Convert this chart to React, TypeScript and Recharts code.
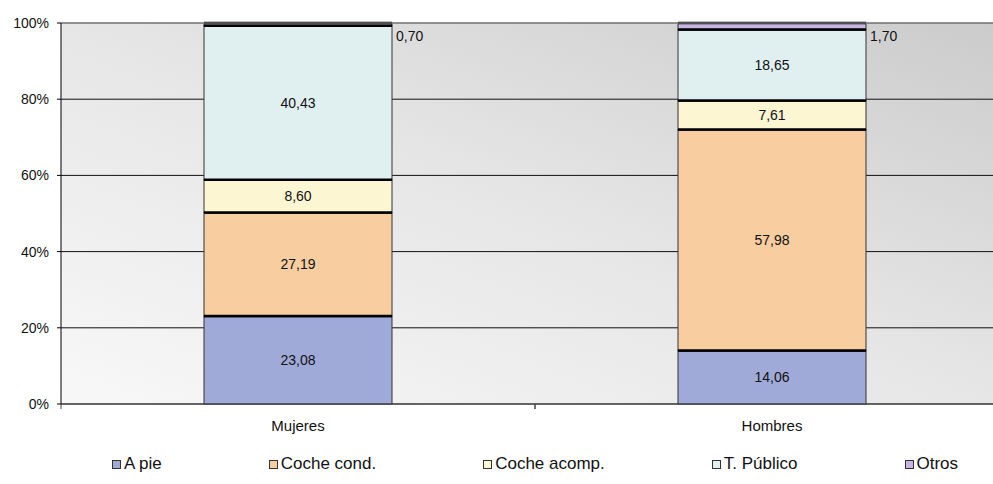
import { Bar, BarChart, CartesianGrid, LabelList, ReferenceLine, XAxis, YAxis } from "recharts";

const categories = ["Mujeres", "Hombres"];
const aPie = [23.08, 14.06];
const cocheCond = [27.19, 57.98];
const cocheAcomp = [8.6, 7.61];
const tPublico = [40.43, 18.65];
const otros = [0.7, 1.7];
const yTicks = [0, 20, 40, 60, 80, 100];

const series = [
  { key: "aPie", name: "A pie", color: "#a0aad8", values: aPie },
  { key: "cocheCond", name: "Coche cond.", color: "#f8cea0", values: cocheCond },
  { key: "cocheAcomp", name: "Coche acomp.", color: "#fcf6d2", values: cocheAcomp },
  { key: "tPublico", name: "T. Público", color: "#e0f0f0", values: tPublico },
  { key: "otros", name: "Otros", color: "#c8b4e2", values: otros },
];

const data = categories.map((name, i) => {
  const row: Record<string, string | number> = { name };
  series.forEach((s) => {
    row[s.key] = s.values[i];
  });
  return row;
});

const FONT = "Arial, 'Liberation Sans', sans-serif";
const HALF_BAND = 237;

const fmt = (v: any) => Number(v).toFixed(2).replace(".", ",");

// segment with thin sides and thick separators (excel look)
const Segment = (props: any) => {
  const { x, y, width, height, fill, bottomEdge } = props;
  if (width == null || height == null) return null;
  return (
    <g>
      <rect x={x} y={y} width={width} height={height} fill={fill} />
      <rect x={x} y={y} width={width} height={height} fill="none" stroke="#333" strokeWidth={1} />
      <line x1={x} y1={y} x2={x + width} y2={y} stroke="#000" strokeWidth={2.5} />
      {!bottomEdge && (
        <line x1={x} y1={y + height} x2={x + width} y2={y + height} stroke="#000" strokeWidth={2.5} />
      )}
    </g>
  );
};

const XTick = (props: any) => {
  const { x, y, payload } = props;
  return (
    <g>
      <line x1={x - HALF_BAND} y1={y} x2={x - HALF_BAND} y2={y + 5} stroke="#444" />
      <line x1={x + HALF_BAND} y1={y} x2={x + HALF_BAND} y2={y + 5} stroke="#444" />
      <text x={x} y={y + 23} textAnchor="middle" dominantBaseline="middle" fontSize={15} fontFamily={FONT} fill="#111">
        {payload.value}
      </text>
    </g>
  );
};

const OtrosLabel = (props: any) => {
  const { x, y, width, value } = props;
  return (
    <text x={x + width + 4} y={y + 14} dominantBaseline="middle" fontSize={14} fontFamily={FONT} fill="#111">
      {fmt(value)}
    </text>
  );
};

const App = () => {
  return (
    <div style={{ position: "fixed", left: 0, top: 0, width: 993, height: 484, overflow: "hidden", background: "#fff" }}>
      <BarChart
        width={1020}
        height={484}
        data={data}
        margin={{ top: 23, right: 11, left: 0, bottom: 54 }}
        barSize={188}
      >
        <defs>
          <linearGradient id="bg" x1="0" y1="1" x2="1" y2="0">
            <stop offset="0%" stopColor="#f8f8f8" />
            <stop offset="50%" stopColor="#e6e6e6" />
            <stop offset="100%" stopColor="#cbcbcb" />
          </linearGradient>
        </defs>
        <CartesianGrid vertical={false} stroke="#111" fill="url(#bg)" fillOpacity={1} />
        <XAxis
          dataKey="name"
          height={26}
          tickSize={0}
          tickMargin={0}
          tickLine={false}
          axisLine={{ stroke: "#444" }}
          tick={<XTick />}
          interval={0}
        />
        <YAxis
          width={61}
          domain={[0, 100]}
          ticks={yTicks}
          tickFormatter={(v) => `${v}%`}
          tickSize={4}
          tickMargin={8}
          axisLine={{ stroke: "#000" }}
          tickLine={{ stroke: "#000" }}
          tick={{ fontSize: 14, fontFamily: FONT, fill: "#111" }}
          interval={0}
        />
        <ReferenceLine y={100} stroke="#a0a0a0" />
        {series.map((s, i) => (
          <Bar
            key={s.key}
            dataKey={s.key}
            name={s.name}
            stackId="a"
            fill={s.color}
            shape={<Segment bottomEdge={i === 0} />}
            isAnimationActive={false}
          >
            {s.key === "otros" ? (
              <LabelList dataKey={s.key} content={<OtrosLabel />} />
            ) : (
              <LabelList
                dataKey={s.key}
                position="center"
                formatter={fmt}
                style={{ fontSize: 14, fontFamily: FONT, fill: "#111" }}
              />
            )}
          </Bar>
        ))}
      </BarChart>
      <div
        style={{
          position: "absolute",
          top: 453,
          left: 61,
          width: 948,
          height: 22,
          display: "flex",
          justifyContent: "center",
          alignItems: "center",
          gap: 107,
          fontFamily: FONT,
          fontSize: 17,
          color: "#111",
          lineHeight: "22px",
        }}
      >
        {series.map((s) => (
          <div key={s.key} style={{ display: "flex", alignItems: "center", whiteSpace: "nowrap" }}>
            <span
              style={{
                display: "inline-block",
                width: 7,
                height: 7,
                border: "1px solid #333",
                background: s.color,
                marginRight: 3,
              }}
            />
            {s.name}
          </div>
        ))}
      </div>
    </div>
  );
};

export default App;
